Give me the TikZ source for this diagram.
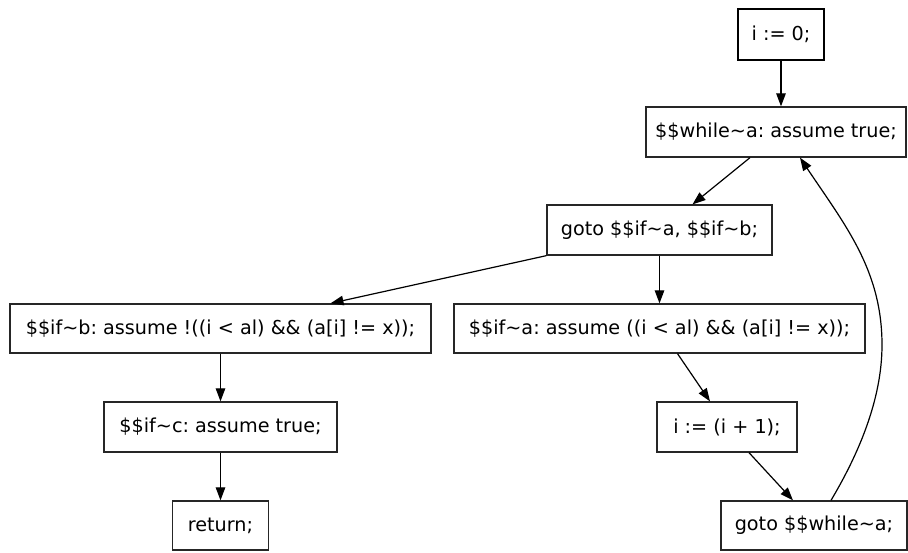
\documentclass[tikz,border=0pt]{standalone}
\usepackage{fontspec}
\setmainfont{DejaVu Sans}
\usetikzlibrary{arrows.meta}
\begin{document}
\frenchspacing
\begin{tikzpicture}[x=1pt,y=-1pt,
  box/.style={draw=black!85,line width=1.3pt,inner sep=0pt,align=center,
    font=\fontsize{19.2}{22}\selectfont},
  conn/.style={line width=1.2pt,-{Triangle[length=13pt,width=9.5pt]}}]
\useasboundingbox (0,0) rectangle (908,552);
\node[box,draw=black,line width=2.8pt,minimum width=86pt,minimum height=51pt] (n0) at (781,34.5) {i := 0;};
\node[box,minimum width=260pt,minimum height=50pt] (nw) at (776,132) {\$\$while\char`\~a: assume true;};
\node[box,minimum width=225pt,minimum height=50pt] (ng) at (659.5,230) {goto \$\$if\char`\~a, \$\$if\char`\~b;};
\node[box,minimum width=421pt,minimum height=49pt] (nb) at (220.5,328.5) {\$\$if\char`\~b: assume !((i < al) \&\& (a[i] != x));};
\node[box,minimum width=411pt,minimum height=49pt] (na) at (659.5,328.5) {\$\$if\char`\~a: assume ((i < al) \&\& (a[i] != x));};
\node[box,minimum width=233pt,minimum height=50pt] (nc) at (220.5,427) {\$\$if\char`\~c: assume true;};
\node[box,minimum width=96pt,minimum height=49pt] (nr) at (220.5,525.5) {return;};
\node[box,minimum width=140pt,minimum height=50pt] (ni) at (727,427) {i := (i + 1);};
\node[box,minimum width=186pt,minimum height=49pt] (ngw) at (814,525.5) {goto \$\$while\char`\~a;};

\draw[conn] (n0.south) -- (n0.south |- nw.north);
\draw[conn] ([xshift=-26pt]nw.south) -- ([xshift=33pt]ng.north);
\draw[conn] (ng.south west) -- ([xshift=110pt]nb.north);
\draw[conn] (ng.south) -- (na.north);
\draw[conn] (nb.south) -- (nc.north);
\draw[conn] (nc.south) -- (nr.north);
\draw[conn] ([xshift=18pt]na.south) -- ([xshift=-17pt]ni.north);
\draw[conn] ([xshift=22pt]ni.south) -- ([xshift=-21pt]ngw.north);
\coordinate (bend) at (882,345);
\draw[conn] ([xshift=17pt]ngw.north) .. controls (858,455) and (882,400) .. (bend)
  .. controls (882,270) and (845,225) .. ([xshift=24pt]nw.south);
\end{tikzpicture}
\end{document}
